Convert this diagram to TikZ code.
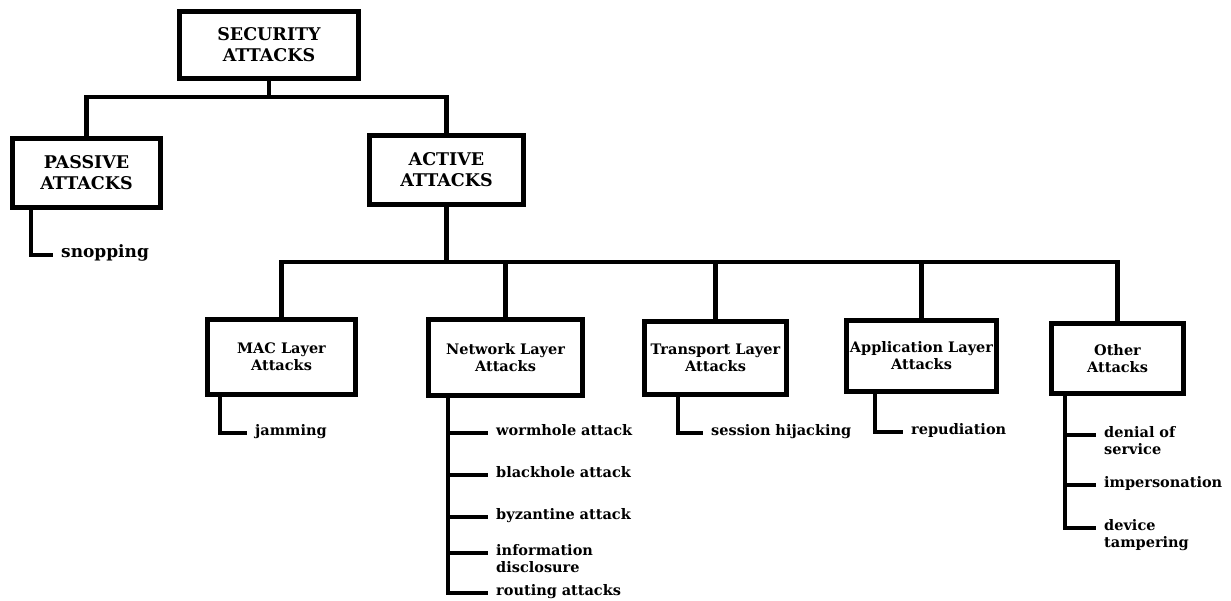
\documentclass[tikz,border=0pt]{standalone}
\usepackage{fontspec}
\setmainfont{DejaVu Serif}
\usepackage{tikz}

\begin{document}
\begin{tikzpicture}
[x=1pt,y=-1pt,
 topdecorate/.style={shape=rectangle,draw,line width=5pt,inner sep=0pt,align=center,font=\fontsize{17.5}{21}\selectfont\bfseries},%
 nodedecorate/.style={shape=rectangle,draw,line width=5pt,inner sep=0pt,align=center,font=\fontsize{14.5}{17}\selectfont\bfseries},%
 leafdecorate/.style={anchor=mid west,inner xsep=8pt,inner ysep=0pt,text width=150pt,align=left,font=\fontsize{14.5}{17}\selectfont\bfseries},%
 linedecorate/.style={-,line width=4.5pt},%
 leaflinedecorate/.style={-,line width=4pt}]
\useasboundingbox (0,0) rectangle (1231,601);
%% boxes
\foreach \nodename/\x/\y/\w/\h/\boxtext in {sec/269/45/179/67/{SECURITY\\ATTACKS},
  passive/86.5/173/148/69/{PASSIVE\\ATTACKS}, active/446.5/170/154/69/{ACTIVE\\ATTACKS}}
{
  \node (\nodename) at (\x,\y) [topdecorate,minimum width=\w pt,minimum height=\h pt] {\boxtext};
}
\foreach \nodename/\x/\y/\w/\h/\boxtext in {mac/281.5/357/148/75/{MAC Layer\\Attacks},
  net/505.5/357.5/154/76/{Network Layer\\Attacks}, trans/715.5/358/142/73/{Transport Layer\\Attacks},
  app/921.5/356/150/71/{Application Layer\\Attacks}, other/1117.5/358.5/132/70/{Other\\Attacks}}
{
  \node (\nodename) at (\x,\y) [nodedecorate,minimum width=\w pt,minimum height=\h pt] {\boxtext};
}
%% leaves
\node (snop) at (53,255) [leafdecorate,font=\fontsize{17}{21}\selectfont\bfseries] {snopping};
\foreach \nodename/\x/\y/\leaftext in {jam/247/433/jamming, worm/488/433/wormhole attack,
  black/488/475/blackhole attack, byz/488/517/byzantine attack, info/488/553/{information\\disclosure},
  route/488/593/routing attacks, sess/703/433/session hijacking, repud/903/432/repudiation,
  dos/1096/435/{denial of\\service}, imper/1096/485/impersonation, tamper/1096/528/{device\\tampering}}
{
  \node (\nodename) at (\x,\y) [leafdecorate] {\leaftext};
}
%% bars
\coordinate (topbar) at (0,97);
\coordinate (midbar) at (0,262);
\draw[linedecorate] (sec.south) -- (sec.south |- topbar);
\draw[linedecorate] (passive.north) |- (active.north |- topbar) -- (active.north);
\draw[linedecorate] (active.south) -- (active.south |- midbar);
\draw[linedecorate] (mac.north) |- (other.north |- midbar) -- (other.north);
\foreach \nodename in {net,trans,app}
  \draw[linedecorate] (\nodename.north) -- (\nodename.north |- midbar);
%% leaf lines
\foreach \parent/\dx/\leaf in {passive/20.5/snop, mac/14.5/jam, net/21.5/worm, net/21.5/black,
  net/21.5/byz, net/21.5/info, net/21.5/route, trans/35.5/sess, app/30.5/repud,
  other/15.5/dos, other/15.5/imper, other/15.5/tamper}
{
  \draw[leaflinedecorate] (\parent.south west) ++(\dx,0) |- (\leaf.mid west);
}
\end{tikzpicture}
\end{document}
